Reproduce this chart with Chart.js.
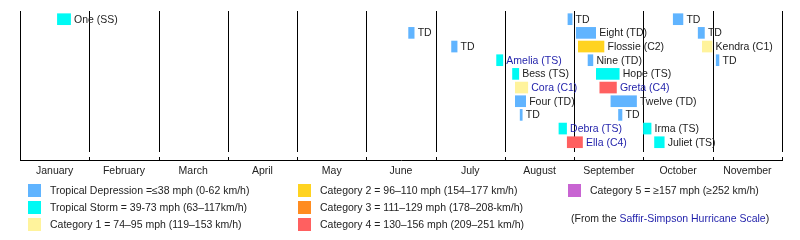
<!DOCTYPE html>
<html>
<head>
<meta charset="utf-8">
<script src="https://cdn.jsdelivr.net/npm/chart.js@4.4.1/dist/chart.umd.min.js"></script>
<style>
  html, body { margin: 0; padding: 0; background: #ffffff; }
  canvas { display: block; }
</style>
</head>
<body>
<canvas id="season-chart" width="800" height="240"></canvas>
<script>
// Season timeline - bars measured in months from Jan 1 (0 = Jan 1, 11 = Dec 1)

const months = ['January', 'February', 'March', 'April', 'May', 'June',
                'July', 'August', 'September', 'October', 'November'];

const stormNames = ['One (SS)', 'TD', 'TD',
                    'TD', 'Eight (TD)', 'TD',
                    'TD', 'Flossie (C2)', 'Kendra (C1)',
                    'Amelia (TS)', 'Nine (TD)', 'TD',
                    'Bess (TS)', 'Hope (TS)',
                    'Cora (C1)', 'Greta (C4)',
                    'Four (TD)', 'Twelve (TD)',
                    'TD', 'TD',
                    'Debra (TS)', 'Irma (TS)',
                    'Ella (C4)', 'Juliet (TS)'];
const stormRows = [0, 0, 0, 1, 1, 1, 2, 2, 2, 3, 3, 3, 4, 4, 5, 5, 6, 6, 7, 7, 8, 8, 9, 9];
const stormStart = [0.54, 7.91, 9.43,
                    5.61, 8.03, 9.79,
                    6.23, 8.06, 9.85,
                    6.88, 8.20, 10.05,
                    7.11, 8.32,
                    7.15, 8.37,
                    7.15, 8.53,
                    7.22, 8.64,
                    7.78, 9.00,
                    7.90, 9.16];
const stormEnd = [0.73, 7.97, 9.57,
                  5.69, 8.31, 9.88,
                  6.31, 8.43, 9.99,
                  6.97, 8.27, 10.09,
                  7.20, 8.65,
                  7.33, 8.61,
                  7.30, 8.90,
                  7.25, 8.69,
                  7.89, 9.11,
                  8.12, 9.30];
const stormCat = ['TS', 'TD', 'TD',
                  'TD', 'TD', 'TD',
                  'TD', 'C2', 'C1',
                  'TS', 'TD', 'TD',
                  'TS', 'TS',
                  'C1', 'C4',
                  'TD', 'TD',
                  'TD', 'TD',
                  'TS', 'TS',
                  'C4', 'TS'];
const linkedStorms = ['Amelia (TS)', 'Cora (C1)', 'Greta (C4)', 'Debra (TS)', 'Ella (C4)'];

const catKeys = ['TD', 'TS', 'C1', 'C2', 'C3', 'C4', 'C5'];
const catColors = ['#60b4ff', '#00faf4', '#fff39c', '#ffd320', '#ff8c20', '#ff6060', '#c864d2'];
const catLabels = [
    'Tropical Depression =\u226438 mph (0-62 km/h)',
    'Tropical Storm = 39-73 mph (63\u2013117km/h)',
    'Category 1 = 74\u201395 mph (119\u2013153 km/h)',
    'Category 2 = 96\u2013110 mph (154\u2013177 km/h)',
    'Category 3 = 111\u2013129 mph (178\u2013208-km/h)',
    'Category 4 = 130\u2013156 mph (209\u2013251 km/h)',
    'Category 5 = \u2265157 mph (\u2265252 km/h)'
];

const FONT = '"Liberation Sans", Arial, sans-serif';
const textColor = '#222222';
const linkColor = '#1f1faa';

// one dataset per category so colours follow the scale
const datasets = catKeys.map(function(key, k) {
    const data = [];
    stormNames.forEach(function(name, i) {
        if (stormCat[i] === key) {
            data.push({ x: [stormStart[i], stormEnd[i]], y: stormRows[i] });
        }
    });
    return {
        label: key,
        data: data,
        backgroundColor: catColors[k],
        borderWidth: 0,
        barThickness: 11,
        grouped: false
    };
}).filter(function(ds) { return ds.data.length > 0; });

// month boundary lines, axis line, small ticks
const gridPlugin = {
    id: 'monthGrid',
    beforeDatasetsDraw: function(chart) {
        const ctx = chart.ctx;
        const area = chart.chartArea;
        const xs = chart.scales.x;
        ctx.save();
        ctx.strokeStyle = '#000000';
        ctx.lineWidth = 1;
        ctx.beginPath();
        for (let i = 0; i <= months.length; i++) {
            const px = Math.round(xs.getPixelForValue(i)) + 0.5;
            const bottom = i === 0 ? area.bottom : area.bottom - 8;
            ctx.moveTo(px, area.top);
            ctx.lineTo(px, bottom);
            // tick at the axis
            ctx.moveTo(px, area.bottom - 3);
            ctx.lineTo(px, area.bottom);
        }
        const py = Math.round(area.bottom) + 0.5;
        ctx.moveTo(Math.round(xs.getPixelForValue(0)), py);
        ctx.lineTo(Math.round(xs.getPixelForValue(months.length)) + 1, py);
        ctx.stroke();
        ctx.restore();
    }
};

// storm names next to their bars
const namePlugin = {
    id: 'stormNames',
    afterDatasetsDraw: function(chart) {
        const ctx = chart.ctx;
        const xs = chart.scales.x;
        const ys = chart.scales.y;
        ctx.save();
        ctx.font = '10.5px ' + FONT;
        ctx.textBaseline = 'middle';
        ctx.textAlign = 'left';
        stormNames.forEach(function(name, i) {
            ctx.fillStyle = linkedStorms.indexOf(name) >= 0 ? linkColor : textColor;
            ctx.fillText(name, xs.getPixelForValue(stormEnd[i]) + 3.5, ys.getPixelForValue(stormRows[i]) + 0.5);
        });
        ctx.restore();
    }
};

// colour key under the axis
const keyPlugin = {
    id: 'colourKey',
    afterDraw: function(chart) {
        const ctx = chart.ctx;
        const colX = [28, 298, 568];
        const rowY = [190.5, 207.5, 224.5];
        ctx.save();
        ctx.font = '10.5px ' + FONT;
        ctx.textBaseline = 'middle';
        catLabels.forEach(function(label, k) {
            const c = Math.floor(k / 3);
            const r = k % 3;
            ctx.fillStyle = catColors[k];
            ctx.fillRect(colX[c], rowY[r] - 6.5, 13, 13);
            ctx.fillStyle = textColor;
            ctx.fillText(label, colX[c] + 22, rowY[r] + 1);
        });
        // source note
        let x = 571;
        const y = 219;
        const parts = [['(From the ', textColor], ['Saffir-Simpson Hurricane Scale', linkColor], [')', textColor]];
        parts.forEach(function(p) {
            ctx.fillStyle = p[1];
            ctx.fillText(p[0], x, y);
            x += ctx.measureText(p[0]).width;
        });
        ctx.restore();
    }
};

new Chart(document.getElementById('season-chart'), {
    type: 'bar',
    data: { datasets: datasets },
    options: {
        indexAxis: 'y',
        responsive: false,
        animation: false,
        layout: { padding: { left: 20, right: 18, top: 11, bottom: 0 } },
        plugins: {
            legend: { display: false },
            tooltip: { enabled: false }
        },
        scales: {
            x: {
                type: 'linear',
                min: 0,
                max: months.length,
                grid: { display: false, drawTicks: false },
                border: { display: false },
                afterBuildTicks: function(scale) {
                    scale.ticks = months.map(function(m, i) { return { value: i + 0.5 }; });
                },
                afterFit: function(scale) { scale.height = 80; },
                ticks: {
                    autoSkip: false,
                    maxRotation: 0,
                    padding: 5,
                    color: textColor,
                    font: { family: FONT, size: 10.5 },
                    callback: function(value, index) { return months[index]; }
                }
            },
            y: {
                type: 'linear',
                reverse: true,
                offset: false,
                min: -0.6,
                max: 10.3,
                display: false
            }
        }
    },
    plugins: [gridPlugin, namePlugin, keyPlugin]
});
</script>
</body>
</html>
